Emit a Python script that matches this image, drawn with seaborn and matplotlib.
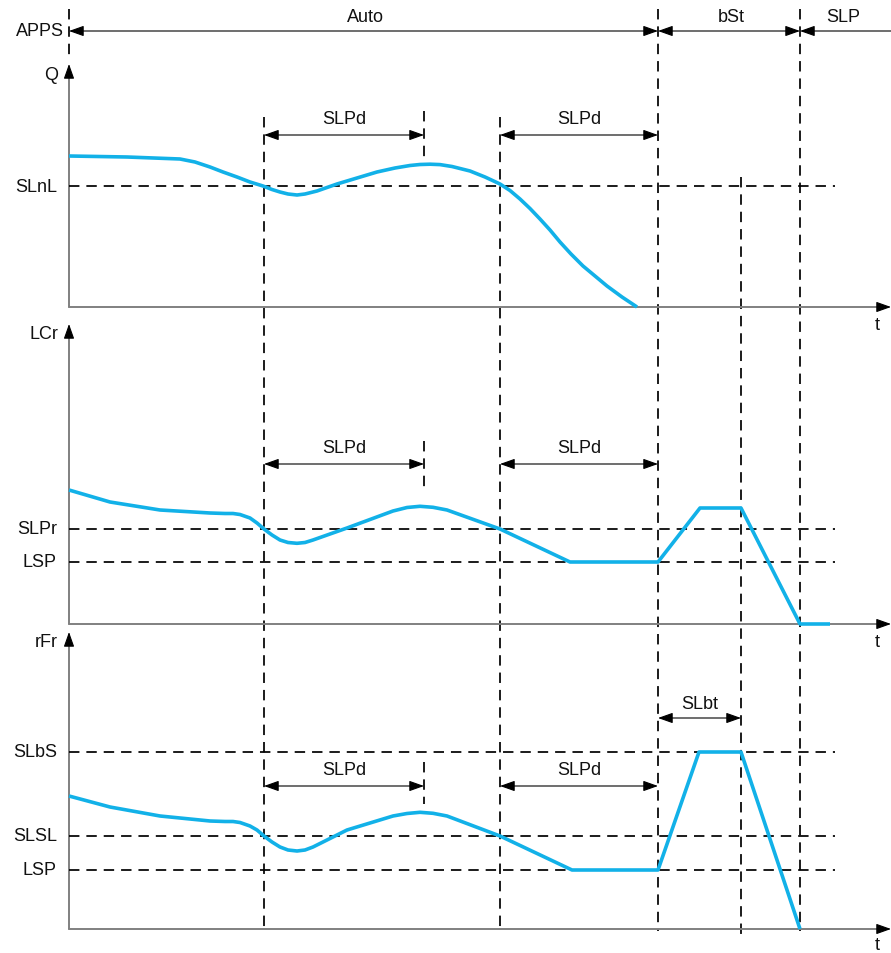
import matplotlib
matplotlib.use("Agg")
import matplotlib.pyplot as plt
import seaborn as sns

# timing diagram of sleep / boost function, drawn on a pixel-like canvas

# --- data (x = time position, y = signal level on the canvas) ---
x_axis = 69
x_end = 891
x_level_end = 835

# event times
t_slp_start_1 = 264
t_slp_end_1 = 424
t_slp_start_2 = 500
t_boost = 658
t_boost_end = 741
t_sleep = 800

# APPS row
apps_labels = ["Auto", "bSt", "SLP"]
apps_label_x = [365, 731, 843]

# panels
panel_names = ["Q", "LCr", "rFr"]
panel_top = [65, 325, 633]
panel_base = [308, 625, 930]
panel_t_label = [326, 643, 946]

# threshold levels per panel
level_names = [["SLnL"], ["SLPr", "LSP"], ["SLbS", "SLSL", "LSP"]]
level_y = [[187], [530, 563], [753, 837, 871]]

# SLPd arrows per panel
slpd_y = [136, 465, 787]
slpd_short_dash = [(112, 160), (442, 488), (763, 805)]

# curves
q_t = [69, 127, 180, 195, 210, 223, 237, 250, 263, 272, 280, 288, 297, 305,
       317, 337, 357, 377, 395, 410, 420, 430, 440, 452, 470, 485, 500, 510,
       520, 530, 540, 550, 560, 571, 583, 595, 607, 622, 637]
q_val = [157, 158, 160, 163, 168, 173, 178, 183, 187, 190.5, 193, 195, 196, 195,
         192, 185, 179, 173, 169, 166.5, 165.5, 165.2, 165.6, 167.5, 172, 178, 185, 191.5,
         200, 209.5, 220, 231, 243, 255, 267, 277, 287, 298, 308]

lcr_t = [69, 110, 160, 210, 225, 233, 240, 250, 257, 264, 272, 280, 288, 297,
         305, 313, 347, 393, 407, 420, 433, 447, 500, 570, 658, 700, 741, 800, 830]
lcr_val = [491, 503, 511, 514, 514.5, 514.5, 515.5, 519, 524, 530, 536, 541, 543.5, 544.3,
           543.5, 541, 529, 512, 508.5, 507.3, 508.3, 511, 530, 563, 563, 509, 509, 625, 625]

rfr_t = [69, 110, 160, 210, 225, 233, 240, 250, 257, 264, 272, 280, 288, 297,
         305, 313, 347, 393, 407, 420, 433, 447, 500, 572, 658, 699, 741, 800]
rfr_val = [797, 808, 817, 822, 822.5, 822.5, 823.5, 827, 831, 837, 843, 848, 851, 852,
           851, 848, 831, 817, 814.5, 813.3, 814.3, 817, 837, 871, 871, 753, 753, 930]

curve_color = "#12B1E8"
axis_color = "#808080"
text_color = "#111111"

sns.set_theme(style="white")
plt.rcParams["font.family"] = ["Liberation Sans", "DejaVu Sans"]

fig = plt.figure(figsize=(8.91, 9.54), dpi=100)
ax = fig.add_axes([0, 0, 1, 1])
ax.set_xlim(0, 891)
ax.set_ylim(954, 0)
ax.axis("off")

dash = dict(color="black", lw=1.25, linestyle=(0, (6, 4)))
fs = 13


def arrow(x0, y0, x1, y1, style="<|-|>"):
    ax.annotate("", xy=(x1, y1), xytext=(x0, y0),
                arrowprops=dict(arrowstyle=f"{style},head_length=0.9,head_width=0.32",
                                mutation_scale=10, color="black", lw=0.8,
                                shrinkA=0, shrinkB=0))


# --- APPS row ---
ax.text(40, 32, "APPS", ha="center", va="center", fontsize=fs, color=text_color)
arrow(x_axis, 32, t_boost, 32)
arrow(t_boost, 32, t_sleep, 32)
arrow(x_end, 32, t_sleep, 32, style="-|>")
for lab, x in zip(apps_labels, apps_label_x):
    ax.text(x, 18, lab, ha="center", va="center", fontsize=fs, color=text_color)
ax.plot([x_axis, x_axis], [10, 56], **dash)

# --- vertical event lines ---
ax.plot([t_slp_start_1] * 2, [118, 932], **dash)
ax.plot([t_slp_start_2] * 2, [118, 932], **dash)
ax.plot([t_boost] * 2, [10, 932], **dash)
ax.plot([t_boost_end] * 2, [178, 935], **dash)
ax.plot([t_sleep] * 2, [10, 932], **dash)
for y0, y1 in slpd_short_dash:
    ax.plot([t_slp_end_1] * 2, [y0, y1], **dash)

# --- panels ---
for i, name in enumerate(panel_names):
    top, base = panel_top[i], panel_base[i]
    # axes
    ax.plot([x_axis, x_axis], [base, top + 10], color=axis_color, lw=1.4)
    arrow(x_axis, top + 13, x_axis, top, style="-|>")
    ax.plot([x_axis, x_end - 10], [base, base], color=axis_color, lw=1.4)
    arrow(x_end - 13, base, x_end, base, style="-|>")
    ax.text(58, top + 10, name, ha="right", va="center", fontsize=fs, color=text_color)
    ax.text(877, panel_t_label[i], "t", ha="center", va="center", fontsize=fs,
            color=text_color)
    # levels
    for lab, y in zip(level_names[i], level_y[i]):
        ax.plot([x_axis, x_level_end], [y, y], **dash)
        ax.text(57, y, lab, ha="right", va="center", fontsize=fs, color=text_color)
    # SLPd spans
    y = slpd_y[i]
    for x0, x1 in [(t_slp_start_1, t_slp_end_1), (t_slp_start_2, t_boost)]:
        arrow(x0, y, x1, y)
        ax.text((x0 + x1) / 2, y - 16, "SLPd", ha="center", va="center",
                fontsize=fs, color=text_color)

# SLbt span
arrow(t_boost, 719, t_boost_end, 719)
ax.text((t_boost + t_boost_end) / 2, 705, "SLbt", ha="center", va="center",
        fontsize=fs, color=text_color)

# --- curves ---
for xs, ys in [(q_t, q_val), (lcr_t, lcr_val), (rfr_t, rfr_val)]:
    sns.lineplot(x=xs, y=ys, ax=ax, sort=False, estimator=None,
                 color=curve_color, lw=2.6, solid_joinstyle="round",
                 solid_capstyle="butt")

fig.savefig("out.png", dpi=100)
